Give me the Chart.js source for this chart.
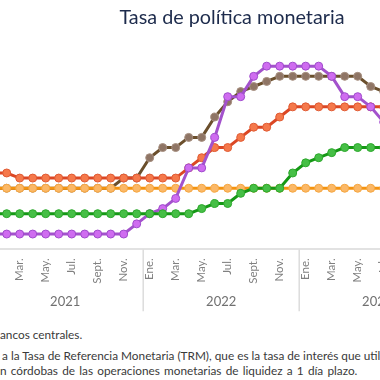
<!DOCTYPE html>
<html>
<head>
<meta charset="utf-8">
<script src="https://cdn.jsdelivr.net/npm/chart.js@4"></script>
<style>
  html, body { margin:0; padding:0; width:380px; height:380px; overflow:hidden; background:#fff; position:relative; }
  #wrap { position:absolute; left:-40px; top:0; width:544px; height:320px; }
  .note { position:absolute; white-space:nowrap; font-family:Lato, sans-serif; font-size:11.8px; color:#3a3a3a; line-height:14px; }
</style>
</head>
<body>
<div id="wrap"><canvas id="c" width="544" height="320"></canvas></div>
<div class="note" style="left:0px; top:328px;">ancos centrales.</div>
<div class="note" style="left:2px; top:349px;">a la Tasa de Referencia Monetaria (TRM), que es la tasa de interés que utiliza</div>
<div class="note" style="left:0px; top:364px; word-spacing:1.2px;">n córdobas de las operaciones monetarias de liquidez a 1 día plazo.</div>
<script>
const chartTitle = 'Tasa de política monetaria';
const monthNames = ["Ene.","Feb.","Mar.","Abr.","May.","Jun.","Jul.","Ago.","Sept.","Oct.","Nov.","Dic."];
const years = ["2021","2022","2023"];
// Jan 2021 .. Jul 2023
const categories = [];
for (let y = 0; y < 3; y++) for (let m = 0; m < 12; m++) if (categories.length < 31) categories.push(monthNames[m] + " " + years[y]);

const green  = [1.75,1.75,1.75,1.75,1.75,1.75,1.75,1.75,1.75,1.75,1.75,1.75, 1.75,1.75,1.75,1.75,2.0,2.25,2.25,2.75,3.0,3.0,3.0,3.75, 4.25,4.5,4.75,5.0,5.0,5.0,5.0];
const purple = [0.75,0.75,0.75,0.75,0.75,0.75,0.75,0.75,0.75,0.75,0.75,1.25, 1.75,2.0,2.5,4.0,4.0,5.5,7.5,7.5,8.5,9.0,9.0,9.0, 9.0,9.0,8.5,7.5,7.5,7.0,6.25];
const red    = [3.75,3.75,3.5,3.5,3.5,3.5,3.5,3.5,3.5,3.5,3.5,3.5, 3.5,3.5,3.5,4.0,4.5,5.0,5.0,5.5,6.0,6.0,6.5,7.0, 7.0,7.0,7.0,7.0,7.0,7.0,7.0];
const orange = [3.0,3.0,3.0,3.0,3.0,3.0,3.0,3.0,3.0,3.0,3.0,3.0, 3.0,3.0,3.0,3.0,3.0,3.0,3.0,3.0,3.0,3.0,3.0,3.0, 3.0,3.0,3.0,3.0,3.0,3.0,3.0];
const brown  = [3.0,3.0,3.0,3.0,3.0,3.0,3.0,3.0,3.0,3.0,3.5,3.5, 4.5,5.0,5.0,5.5,5.5,6.5,7.25,7.75,8.0,8.25,8.5,8.5, 8.5,8.5,8.5,8.5,8.5,8.0,7.75];

function ds(label, data, line, fill, border, order) {
  return { label, data, borderColor: line, backgroundColor: fill, borderWidth: 3,
    pointRadius: 4, pointHoverRadius: 4, pointBackgroundColor: fill, pointBorderColor: border,
    pointBorderWidth: 1, tension: 0, order };
}

const yearPlugin = {
  id: 'years',
  afterDraw(chart) {
    const ctx = chart.ctx, xs = chart.scales.x, bottom = chart.chartArea.bottom;
    ctx.save();
    ctx.strokeStyle = '#dcdcdc';
    ctx.lineWidth = 1.5;
    for (let y = 0; y <= years.length; y++) {
      const px = xs.getPixelForValue(y * 12 - 0.5);
      ctx.beginPath(); ctx.moveTo(px, bottom); ctx.lineTo(px, bottom + 62); ctx.stroke();
    }
    ctx.fillStyle = '#707070';
    ctx.font = '13px Lato, sans-serif';
    ctx.textAlign = 'center';
    ctx.textBaseline = 'middle';
    years.forEach((yr, y) => {
      ctx.fillText(yr, xs.getPixelForValue(y * 12 + 5.5), bottom + 53);
    });
    // title, centred over the full (uncropped) figure
    ctx.fillStyle = '#1d2b4c';
    ctx.font = '19.8px Lato, sans-serif';
    ctx.fillText(chartTitle, chart.width / 2, 17.5);
    ctx.restore();
  }
};

new Chart(document.getElementById('c'), {
  type: 'line',
  data: {
    labels: categories,
    datasets: [
      ds('Guatemala', green, '#159815', '#46bf46', '#2ca82c', 1),
      ds('Costa Rica', purple, '#a352cc', '#cf6cf0', '#9f4ccc', 2),
      ds('Nicaragua', red, '#db4724', '#f5794b', '#e05a33', 3),
      ds('Honduras', orange, '#f4930f', '#fbb867', '#f5a640', 4),
      ds('República Dominicana', brown, '#6b4f2c', '#8f7565', '#a68f80', 5)
    ]
  },
  options: {
    responsive: false,
    animation: false,
    devicePixelRatio: 1,
    layout: { padding: { left: 33.7, right: 120.3, top: 45.8, bottom: 0 } },
    plugins: {
      legend: { display: false },
      tooltip: { enabled: false },
      title: { display: false }
    },
    scales: {
      x: {
        offset: false,
        grid: { display: false, drawTicks: false },
        border: { display: true, color: '#e2e2e2', width: 2 },
        ticks: {
          autoSkip: false, maxRotation: 90, minRotation: 90, padding: 9,
          color: '#808080', font: { family: 'Lato', size: 11.5 },
          callback: (v, i) => (i % 2 === 0 ? monthNames[i % 12] : '')
        },
        afterFit: (s) => { s.height = 70.7; }
      },
      y: { display: false, min: 0, max: 10 }
    }
  },
  plugins: [yearPlugin]
});
</script>
</body>
</html>
